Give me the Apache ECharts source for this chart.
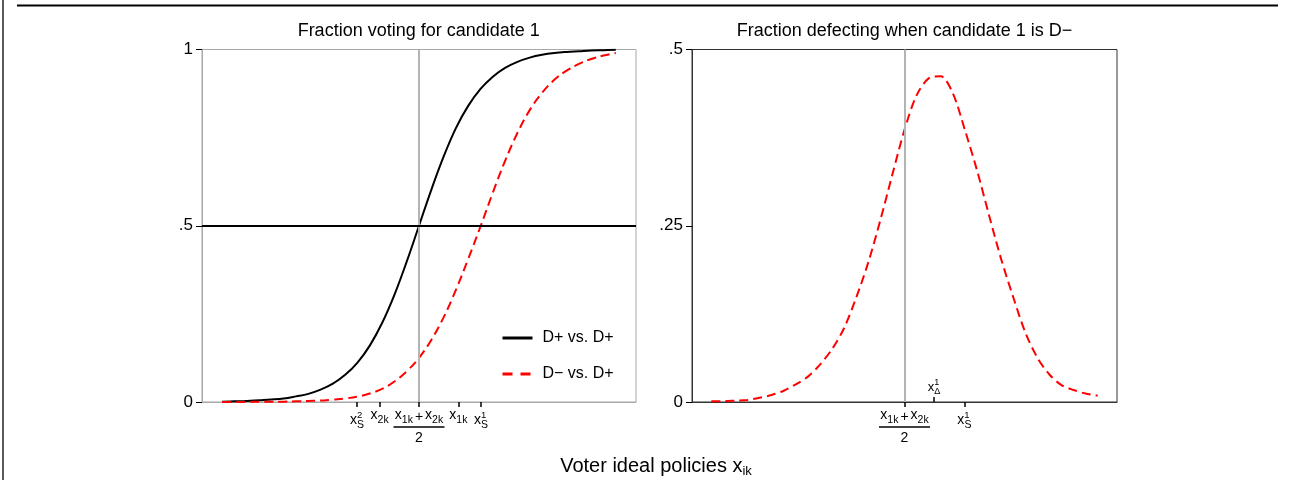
<!DOCTYPE html>
<html><head><meta charset="utf-8">
<script src="https://cdn.jsdelivr.net/npm/echarts@6/dist/echarts.min.js"></script>
<style>html,body{margin:0;padding:0;background:#fff}#c{width:1292px;height:480px}</style>
</head><body><div id="c"></div>
<script>
// ---- data ----
const xs = [-4, -3.75, -3.5, -3.25, -3, -2.75, -2.5, -2.25, -2, -1.75, -1.5, -1.25, -1, -0.75, -0.5, -0.25,
  0, 0.25, 0.5, 0.75, 1, 1.25, 1.5, 1.75, 2, 2.25, 2.5, 2.75, 3, 3.25, 3.5, 3.75, 4];
// Fraction voting for candidate 1, D+ vs. D+
const votePlus = [0.001, 0.002, 0.003, 0.005, 0.007, 0.010, 0.016, 0.023, 0.035, 0.052, 0.077, 0.112, 0.160, 0.224, 0.304, 0.398,
  0.500, 0.602, 0.696, 0.777, 0.840, 0.888, 0.923, 0.948, 0.965, 0.977, 0.985, 0.990, 0.993, 0.995, 0.997, 0.998, 0.999];
// Fraction voting for candidate 1, D− vs. D+
const voteMinus = [0.000, 0.000, 0.000, 0.001, 0.001, 0.001, 0.002, 0.003, 0.004, 0.007, 0.010, 0.015, 0.024, 0.037, 0.058, 0.087,
  0.125, 0.176, 0.240, 0.318, 0.406, 0.498, 0.594, 0.684, 0.763, 0.828, 0.877, 0.914, 0.940, 0.959, 0.973, 0.983, 0.990];
// Fraction defecting when candidate 1 is D−
const defect = [0.001, 0.001, 0.002, 0.003, 0.006, 0.010, 0.016, 0.025, 0.036, 0.053, 0.075, 0.105, 0.148, 0.198, 0.258, 0.323,
  0.386, 0.435, 0.459, 0.462, 0.438, 0.386, 0.329, 0.265, 0.203, 0.149, 0.099, 0.063, 0.039, 0.024, 0.017, 0.012, 0.009];

const leftTickValues = [-1.26, -0.8, 0, 0.8, 1.26];
const leftTickLabels = ['{x|x}{sp|2}{sb|S}', '{xa|x}{sa|2k}', 'frac', '{xa|x}{sa|1k}', '{x|x}{sp|1}{sb|S}'];
const rightTickValues = [0, 1.24];
const rightTickLabels = ['frac', '{x|x}{sp|1}{sb|S}'];
const rightUpTickValues = [0.61];
const rightUpTickLabels = ['{x|x}{sp|1}{sb|Δ}'];
const midpointX = 0;
const halfShare = 0.5;
const seriesNames = ['D+ vs. D+', 'D\u2212 vs. D+'];
const titles = ['Fraction voting for candidate 1', 'Fraction defecting when candidate 1 is D\u2212'];

const FONT = '"Liberation Sans", Arial, Helvetica, sans-serif';
const fracLabel = '{fx|x}{fs|1k}{fp|+}{fx|x}{fs|2k}\n{bar| }\n{two|2}';

const base = {fontFamily: FONT, color: '#000', fontWeight: 'normal'};
const rich = {
  x: Object.assign({fontSize: 14, height: 20, lineHeight: 20, verticalAlign: 'middle', align: 'left'}, base),
  sp: Object.assign({fontSize: 9.5, height: 10, lineHeight: 10, verticalAlign: 'top', align: 'left', width: 0.1}, base),
  sb: Object.assign({fontSize: 10.5, height: 10, lineHeight: 10, verticalAlign: 'bottom', align: 'left'}, base),
  xa: Object.assign({fontSize: 14, height: 10, lineHeight: 10, verticalAlign: 'top'}, base),
  sa: Object.assign({fontSize: 10.5, height: 10, lineHeight: 15, verticalAlign: 'bottom'}, base),
  fx: Object.assign({fontSize: 14, height: 10, lineHeight: 10, verticalAlign: 'top'}, base),
  fs: Object.assign({fontSize: 10.5, height: 10, lineHeight: 15, verticalAlign: 'bottom'}, base),
  fp: Object.assign({fontSize: 14, height: 14, lineHeight: 14, verticalAlign: 'top', padding: [0, 2, 0, 2]}, base),
  bar: {fontSize: 1, width: 51, height: 1.4, lineHeight: 4, backgroundColor: '#000'},
  two: Object.assign({fontSize: 14, height: 18, lineHeight: 18, verticalAlign: 'middle'}, base)
};
const richUp = {
  x: Object.assign({fontSize: 13, height: 18, lineHeight: 18, verticalAlign: 'middle', align: 'left'}, base),
  sp: Object.assign({fontSize: 9, height: 9, lineHeight: 9, verticalAlign: 'top', align: 'left', width: 0.1}, base),
  sb: Object.assign({fontSize: 9, height: 9, lineHeight: 9, verticalAlign: 'bottom', align: 'left'}, base)
};

function labelFor(values, labels) {
  return function (v) {
    let best = 0, d = Infinity;
    values.forEach((t, i) => { if (Math.abs(t - v) < d) { d = Math.abs(t - v); best = i; } });
    const s = labels[best];
    return s === 'frac' ? fracLabel : s;
  };
}
const yFmt = v => (v === 0 ? '0' : String(v).replace(/^0\./, '.'));
const pairs = arr => xs.map((x, i) => [x, arr[i]]);

const chart = echarts.init(document.getElementById('c'), null, {renderer: 'canvas'});
const LEFTC = '#a8a8a8', RIGHTC = '#333';
const DASH = [9, 5];

function yAxisFor(grid, max, interval, color) {
  return {type: 'value', gridIndex: grid, min: 0, max: max, interval: interval, splitLine: {show: false},
    axisLine: {show: true, onZero: false, lineStyle: {color: color, width: 1}},
    axisTick: {show: true, length: 6, lineStyle: {color: '#000', width: 1}},
    axisLabel: {fontSize: 17, color: '#000', margin: 9, formatter: yFmt, fontFamily: FONT}};
}

const option = {
  animation: false,
  textStyle: {fontFamily: FONT},
  title: [
    {text: titles[0], left: 418.7, top: 21, textAlign: 'center', padding: 0,
      textStyle: {fontSize: 18, fontWeight: 'normal', color: '#000', fontFamily: FONT, lineHeight: 20}},
    {text: titles[1], left: 904.5, top: 21, textAlign: 'center', padding: 0,
      textStyle: {fontSize: 18, fontWeight: 'normal', color: '#000', fontFamily: FONT, lineHeight: 20}},
    {text: '{m|Voter ideal policies x}{s|ik}', left: 656, top: 455, textAlign: 'center', padding: 0,
      textStyle: {fontFamily: FONT, fontWeight: 'normal', rich: {
        m: Object.assign({fontSize: 20, height: 22, lineHeight: 22, verticalAlign: 'middle'}, base),
        s: Object.assign({fontSize: 13, height: 12, lineHeight: 12, verticalAlign: 'bottom'}, base)}}}
  ],
  legend: {
    data: [
      {name: seriesNames[0], lineStyle: {width: 3, type: 'solid'}},
      {name: seriesNames[1], lineStyle: {width: 3, type: [10, 8]}}
    ],
    orient: 'vertical', left: 496, top: 325, itemWidth: 30, itemHeight: 16, itemGap: 20,
    textStyle: {fontSize: 16, color: '#000', fontFamily: FONT, padding: [0, 0, 0, 5]},
    lineStyle: {width: 3}, itemStyle: {opacity: 0, color: 'transparent', borderWidth: 0}, selectedMode: false
  },
  grid: [
    {left: 202, top: 49.5, width: 434, height: 352.5, show: true, borderColor: LEFTC, borderWidth: 1, outerBoundsMode: 'none', containLabel: false},
    {left: 692, top: 49.5, width: 425, height: 352.5, show: true, borderColor: RIGHTC, borderWidth: 1, outerBoundsMode: 'none', containLabel: false}
  ],
  xAxis: [
    {type: 'value', gridIndex: 0, min: -4.41, max: 4.41, splitLine: {show: false},
      axisLine: {show: true, onZero: false, lineStyle: {color: LEFTC, width: 1}},
      axisTick: {show: true, length: 5, lineStyle: {color: '#000', width: 1.5}, customValues: leftTickValues},
      axisLabel: {show: true, margin: 8, customValues: leftTickValues, formatter: labelFor(leftTickValues, leftTickLabels), rich: rich}},
    {type: 'value', gridIndex: 1, min: -4.4, max: 4.4, splitLine: {show: false},
      axisLine: {show: true, onZero: false, lineStyle: {color: RIGHTC, width: 1}},
      axisTick: {show: true, length: 5, lineStyle: {color: '#000', width: 1.5}, customValues: rightTickValues},
      axisLabel: {show: true, margin: 8, customValues: rightTickValues, formatter: labelFor(rightTickValues, rightTickLabels), rich: rich}},
    {type: 'value', gridIndex: 1, min: -4.4, max: 4.4, position: 'bottom', splitLine: {show: false},
      axisLine: {show: false, onZero: false},
      axisTick: {show: true, inside: true, length: 5, lineStyle: {color: '#000', width: 1.5}, customValues: rightUpTickValues},
      axisLabel: {show: true, inside: true, margin: 6, customValues: rightUpTickValues, formatter: labelFor(rightUpTickValues, rightUpTickLabels), rich: richUp}}
  ],
  yAxis: [yAxisFor(0, 1, 0.5, LEFTC), yAxisFor(1, 0.5, 0.25, RIGHTC)],
  series: [
    {type: 'line', xAxisIndex: 0, yAxisIndex: 0, data: [], z: 1, silent: true,
      markLine: {silent: true, symbol: ['none', 'none'], label: {show: false}, animation: false,
        data: [
          {xAxis: midpointX, lineStyle: {color: '#b4b4b4', width: 2, type: 'solid'}},
          {yAxis: halfShare, lineStyle: {color: '#000', width: 2, type: 'solid'}}
        ]}},
    {type: 'line', xAxisIndex: 1, yAxisIndex: 1, data: [], z: 1, silent: true,
      markLine: {silent: true, symbol: ['none', 'none'], label: {show: false}, animation: false,
        data: [{xAxis: midpointX, lineStyle: {color: '#b4b4b4', width: 2, type: 'solid'}}]}},
    {name: seriesNames[0], type: 'line', xAxisIndex: 0, yAxisIndex: 0, data: pairs(votePlus), z: 3,
      symbol: 'none', showSymbol: false, smooth: 0.4,
      lineStyle: {color: '#000', width: 2, type: 'solid'}, itemStyle: {color: '#000'}},
    {name: seriesNames[1], type: 'line', xAxisIndex: 0, yAxisIndex: 0, data: pairs(voteMinus), z: 3,
      symbol: 'none', showSymbol: false, smooth: 0.4,
      lineStyle: {color: '#ff0000', width: 2, type: DASH}, itemStyle: {color: '#ff0000'}},
    {name: 'defect', type: 'line', xAxisIndex: 1, yAxisIndex: 1, data: pairs(defect), z: 3,
      symbol: 'none', showSymbol: false, smooth: 0.3,
      lineStyle: {color: '#ff0000', width: 2, type: DASH}, itemStyle: {color: '#ff0000'}}
  ],
  graphic: [
    {type: 'line', shape: {x1: 17, y1: 5.5, x2: 1278, y2: 5.5}, style: {stroke: '#000', lineWidth: 2}, silent: true},
    {type: 'line', shape: {x1: 3, y1: 0, x2: 3, y2: 480}, style: {stroke: '#222', lineWidth: 1.5}, silent: true}
  ]
};
chart.setOption(option);
</script></body></html>
